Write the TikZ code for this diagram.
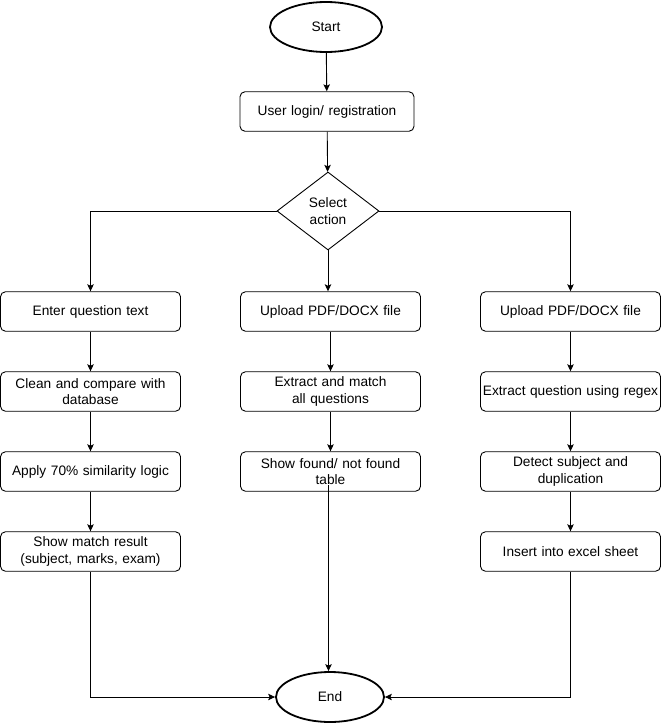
\documentclass[tikz,border=0pt]{standalone}
\usepackage{fontspec}
\setmainfont{Liberation Sans}
\usetikzlibrary{shapes.geometric,arrows.meta,calc}
\begin{document}
\begin{tikzpicture}[x=1pt,y=-1pt,
  every node/.style={font=\fontsize{13.7}{16.5}\selectfont, text=black},
  proc/.style={draw, rounded corners=5pt, line width=0.9pt, minimum width=180pt, minimum height=39.5pt, inner sep=1pt, align=center, text width=178pt},
  term/.style={draw, ellipse, line width=1.8pt, inner sep=0pt},
  dec/.style={draw, diamond, line width=0.9pt, minimum width=102pt, minimum height=78pt, inner sep=0pt, align=center},
  conn/.style={line width=0.9pt, -{Stealth[length=7pt,width=6.5pt,inset=1.5pt]}},
  plain/.style={line width=0.9pt}]
\useasboundingbox (0,0) rectangle (661,723);
\node[term, minimum width=112pt, minimum height=50pt] (start) at (326,27) {Start};
\node[proc, minimum width=174pt, text width=172pt] (login) at (327,111.5) {User login/ registration};
\node[dec] (dia) at (328,211) {Select\\action};

\node[proc] (a1) at (90.5,311.5) {Enter question text};
\node[proc] (a2) at (90.5,391.5) {Clean and compare with\\database};
\node[proc] (a3) at (90.5,471.5) {Apply 70\% similarity logic};
\node[proc] (a4) at (90.5,551.5) {Show match result\\(subject, marks, exam)};

\node[proc] (b1) at (330.5,311.5) {Upload PDF/DOCX file};
\node[proc] (b2) at (330.5,391.5) {Extract and match\\all questions};
\node[proc] (b3) at (330.5,471.5) {Show found/ not found\\table};

\node[proc] (c1) at (570.5,311.5) {Upload PDF/DOCX file};
\node[proc] (c2) at (570.5,391.5) {Extract question using regex};
\node[proc] (c3) at (570.5,471.5) {Detect subject and\\duplication};
\node[proc] (c4) at (570.5,551.5) {Insert into excel sheet};

\node[term, minimum width=108pt, minimum height=50pt] (end) at (330,697) {End};

\draw[conn] (start) -- (login);
\draw[conn] (login) -- (dia);
\draw[conn] (dia.west) -| (a1.north);
\draw[conn] (dia.south) -- (dia.south |- b1.north);
\draw[conn] (dia.east) -| (c1.north);

\draw[conn] (a1) -- (a2);
\draw[conn] (a2) -- (a3);
\draw[conn] (a3) -- (a4);
\draw[conn] (b1) -- (b2);
\draw[conn] (b2) -- (b3);
\draw[conn] (c1) -- (c2);
\draw[conn] (c2) -- (c3);
\draw[conn] (c3) -- (c4);

\coordinate (m) at (328.5,485);
\draw[conn] (m) -- (m |- end.north);
\draw[conn] (a4.south) |- (end.west);
\draw[conn] (c4.south) |- (end.east);
\end{tikzpicture}
\end{document}
